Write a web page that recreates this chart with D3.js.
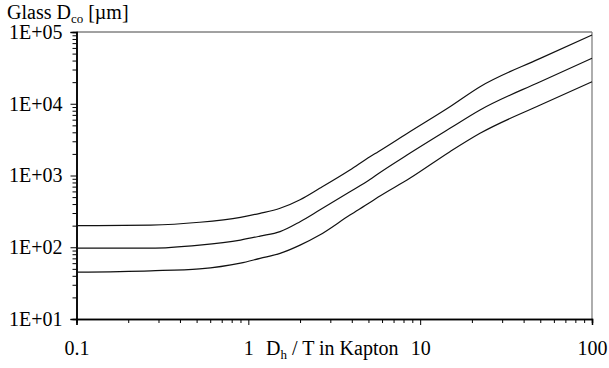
<!DOCTYPE html>
<html lang="en">

<head>
    <meta charset="UTF-8" />
    <title>Glass Dco vs Dh/T</title>
    <style>
        body { margin: 0; background: #fff; }
        svg text { font-family: "Liberation Serif", "Times New Roman", serif; fill: #000; }
    </style>
</head>

<body>
    <div id="container"></div>
</body>
<script src="https://cdnjs.cloudflare.com/ajax/libs/d3/7.1.1/d3.min.js"></script>
<script>
    // Dh / T in Kapton
    const ratios = [0.1, 0.27, 0.52, 0.9, 1.17, 1.53, 2.0, 2.6, 3.9, 5.1, 5.7, 8.7, 14.9, 22.3, 50, 100];
    // Glass Dco [um], three curves
    const upper = [200, 204, 223, 261, 297, 349, 460, 663, 1194, 1828, 2147, 4075, 9100, 17300, 42900, 91000];
    const middle = [97, 97, 107, 126, 143, 165, 227, 330, 594, 880, 1060, 2040, 4540, 8190, 20300, 43000];
    const lower = [45, 47, 50, 60, 70, 82, 107, 148, 281, 420, 500, 914, 2147, 3870, 9610, 20300];
    const yTicks = [1e1, 1e2, 1e3, 1e4, 1e5];
    const yTickLabels = ["1E+01", "1E+02", "1E+03", "1E+04", "1E+05"];
    const xTicks = [0.1, 1, 10, 100];
    const xTickLabels = ["0.1", "1", "10", "100"];

    const W = 609, H = 368;
    const mLeft = 76.5, mRight = 592, mTop = 32, mBottom = 319;
    const serif = "'Liberation Serif', 'Times New Roman', serif";

    const svg = d3.select("#container").append("svg").attr("width", W).attr("height", H);

    const x = d3.scaleLog().domain([0.1, 100]).range([mLeft, mRight]);
    const y = d3.scaleLog().domain([10, 1e5]).range([mBottom, mTop]);

    // minor ticks 2..9 per decade
    const minor = (dom) => {
        let out = [];
        for (let e = Math.round(Math.log10(dom[0])); e < Math.round(Math.log10(dom[1])); e++)
            for (let m = 2; m <= 9; m++) out.push(m * Math.pow(10, e));
        return out;
    };

    // frame top / right
    svg.append("line").attr("x1", mLeft).attr("x2", mRight).attr("y1", mTop).attr("y2", mTop)
        .attr("stroke", "#444").attr("stroke-width", 1);
    svg.append("line").attr("x1", mRight).attr("x2", mRight).attr("y1", mTop).attr("y2", mBottom)
        .attr("stroke", "#777").attr("stroke-width", 1.2);

    // y axis
    const yMinor = svg.append("g").attr("transform", `translate(${mLeft},0)`)
        .call(d3.axisLeft(y).tickValues(minor([10, 1e5])).tickSize(4).tickFormat(""));
    const yMajor = svg.append("g").attr("transform", `translate(${mLeft},0)`)
        .call(d3.axisLeft(y).tickValues(yTicks).tickSize(6).tickPadding(8)
            .tickFormat((d, i) => yTickLabels[i]));

    // x axis
    const xMinor = svg.append("g").attr("transform", `translate(0,${mBottom})`)
        .call(d3.axisBottom(x).tickValues(minor([0.1, 100])).tickSize(4).tickFormat(""));
    const xMajor = svg.append("g").attr("transform", `translate(0,${mBottom})`)
        .call(d3.axisBottom(x).tickValues(xTicks).tickSize(6).tickPadding(16)
            .tickFormat((d, i) => xTickLabels[i]));

    [yMinor, yMajor, xMinor, xMajor].forEach(g => {
        g.attr("font-family", null).attr("font-size", null)
            .style("font-family", serif).style("font-size", "20px");
        g.select(".domain").attr("stroke", "#000").attr("stroke-width", 1.5);
        g.selectAll(".tick line").attr("stroke", "#000").attr("stroke-width", 1);
        g.selectAll("text").style("font-family", serif).style("font-size", "20px");
    });

    // curves
    const line = d3.line().x(d => x(d[0])).y(d => y(d[1])).curve(d3.curveMonotoneX);
    [upper, middle, lower].forEach(s => {
        svg.append("path")
            .datum(ratios.map((r, i) => [r, s[i]]))
            .attr("d", line)
            .attr("fill", "none")
            .attr("stroke", "#111")
            .attr("stroke-width", 1.2);
    });

    // y title
    const yt = svg.append("text").attr("x", 7).attr("y", 19).style("font-size", "20px");
    yt.append("tspan").text("Glass D");
    yt.append("tspan").style("font-size", "13px").attr("dy", 4).text("co");
    yt.append("tspan").attr("dy", -4).text(" [µm]");

    // x title
    const xt = svg.append("text").attr("x", 266).attr("y", 355).style("font-size", "20px");
    xt.append("tspan").text("D");
    xt.append("tspan").style("font-size", "13px").attr("dy", 4).text("h");
    xt.append("tspan").attr("dy", -4).text(" / T in Kapton");
</script>

</html>
